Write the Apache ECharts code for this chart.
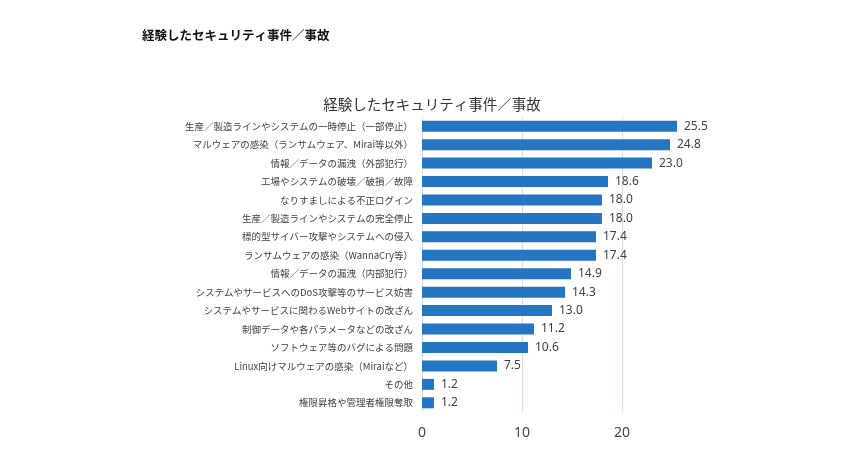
<!DOCTYPE html>
<html><head><meta charset="utf-8">
<script src="https://cdn.jsdelivr.net/npm/echarts@6/dist/echarts.min.js"></script>
<style>html,body{margin:0;padding:0;background:#fff}#c{width:850px;height:470px}</style>
</head><body><div id="c"></div>
<script>
const pageTitle = '経験したセキュリティ事件／事故';
const chartTitle = '経験したセキュリティ事件／事故';
const categories = [
  '生産／製造ラインやシステムの一時停止（一部停止）',
  'マルウェアの感染（ランサムウェア、Mirai等以外）',
  '情報／データの漏洩（外部犯行）',
  '工場やシステムの破壊／破損／故障',
  'なりすましによる不正ログイン',
  '生産／製造ラインやシステムの完全停止',
  '標的型サイバー攻撃やシステムへの侵入',
  'ランサムウェアの感染（WannaCry等）',
  '情報／データの漏洩（内部犯行）',
  'システムやサービスへのDoS攻撃等のサービス妨害',
  'システムやサービスに関わるWebサイトの改ざん',
  '制御データや各パラメータなどの改ざん',
  'ソフトウェア等のバグによる問題',
  'Linux向けマルウェアの感染（Miraiなど）',
  'その他',
  '権限昇格や管理者権限奪取'
];
const values = [25.5, 24.8, 23.0, 18.6, 18.0, 18.0, 17.4, 17.4, 14.9, 14.3, 13.0, 11.2, 10.6, 7.5, 1.2, 1.2];
const gridTicks = [0, 10, 20];

const chart = echarts.init(document.getElementById('c'));
chart.setOption({
  animation: false,
  title: [
    { text: pageTitle, left: 137, top: 24, textStyle: { fontSize: 12.5, fontWeight: 'bold', color: '#111', fontFamily: 'Noto Sans CJK JP' } },
    { text: chartTitle, left: 427, textAlign: 'center', top: 92, textStyle: { fontSize: 14.5, fontWeight: 'normal', color: '#333', fontFamily: 'Noto Sans CJK JP' } }
  ],
  grid: { left: 422, right: 128, top: 117, bottom: 58, containLabel: false },
  xAxis: {
    type: 'value', min: 0, max: 30, interval: 10,
    axisLine: { show: false }, axisTick: { show: false },
    splitLine: { show: false },
    axisLabel: { showMaxLabel: false, fontSize: 14, color: '#444', margin: 14, fontFamily: 'Noto Sans' }
  },
  yAxis: {
    type: 'category', inverse: true, data: categories,
    axisLine: { show: false }, axisTick: { show: false },
    axisLabel: { fontSize: 9.5, color: '#404040', margin: 9, fontFamily: 'Noto Sans CJK JP' }
  },
  series: [
    {
      type: 'bar', data: [], z: 1, silent: true,
      markLine: {
        silent: true, symbol: 'none', label: { show: false },
        lineStyle: { color: '#d9d9f2', width: 1, type: 'solid' },
        data: gridTicks.map(v => ({ xAxis: v }))
      }
    },
    {
      type: 'bar', data: values, barWidth: 11, barGap: '-100%', z: 5,
      itemStyle: { color: '#2475c2' },
      label: { show: true, position: 'right', distance: 7, fontSize: 12, color: '#404040', fontFamily: 'Noto Sans',
        formatter: p => p.value.toFixed(1) }
    }
  ]
});
</script></body></html>
